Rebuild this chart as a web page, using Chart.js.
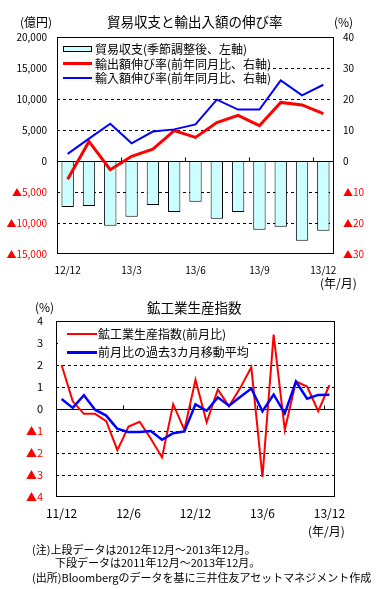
<!DOCTYPE html>
<html>
<head>
<meta charset="utf-8">
<script src="https://cdn.jsdelivr.net/npm/chart.js@4.4.1/dist/chart.umd.min.js"></script>
<style>
  html, body { margin:0; padding:0; background:#fff; }
  #wrap { position:relative; width:381px; height:589px; overflow:hidden; background:#fff;
          font-family:"Noto Sans CJK JP", sans-serif; color:#000; }
  canvas { position:absolute; left:0; }
  .t { position:absolute; white-space:nowrap; line-height:1; }
  .box { position:absolute; background:#fff; }
  .sw { position:absolute; }
</style>
</head>
<body>
<div id="wrap">
  <canvas id="c1" width="381" height="285" style="top:0"></canvas>
  <canvas id="c2" width="381" height="255" style="top:285px"></canvas>

  <div class="t" style="left:107px;top:15px;font-size:13.5px;">貿易収支と輸出入額の伸び率</div>
  <div class="t" style="left:20px;top:16px;font-size:12px;">(億円)</div>
  <div class="t" style="left:334px;top:16px;font-size:12px;">(%)</div>
  <div class="t" style="left:320px;top:277px;font-size:12px;">(年/月)</div>

  <div class="box" style="left:58px;top:38px;width:210px;height:50px;"></div>
  <div class="sw" style="left:63px;top:46px;width:27px;height:4px;background:#CCFFFF;border:1px solid #000;"></div>
  <div class="t" style="left:95px;top:43px;font-size:12px;" id="lg1"></div>
  <div class="sw" style="left:63px;top:62px;width:29px;height:3px;background:#FF0000;"></div>
  <div class="t" style="left:95px;top:57.5px;font-size:12px;" id="lg2"></div>
  <div class="sw" style="left:63px;top:77px;width:29px;height:2px;background:#0000FF;"></div>
  <div class="t" style="left:95px;top:72px;font-size:12px;" id="lg3"></div>

  <div class="t" style="left:147px;top:301px;font-size:13.5px;">鉱工業生産指数</div>
  <div class="t" style="left:35px;top:301px;font-size:12px;">(%)</div>
  <div class="t" style="left:308px;top:525px;font-size:12px;">(年/月)</div>

  <div class="box" style="left:58px;top:322px;width:187px;height:38px;"></div>
  <div class="sw" style="left:67px;top:333px;width:30px;height:2px;background:#FF0000;"></div>
  <div class="t" style="left:98px;top:328px;font-size:12px;" id="lg4"></div>
  <div class="sw" style="left:67px;top:350.5px;width:30px;height:3px;background:#0000FF;"></div>
  <div class="t" style="left:98px;top:346px;font-size:12px;" id="lg5"></div>

  <div class="t" style="left:32px;top:543.5px;font-size:11px;">(注)上段データは2012年12月～2013年12月。</div>
  <div class="t" style="left:55px;top:556.5px;font-size:11px;">下段データは2011年12月～2013年12月。</div>
  <div class="t" style="left:32px;top:571.5px;font-size:11px;">(出所)Bloombergのデータを基に三井住友アセットマネジメント作成</div>
</div>

<script>
// ---- Top chart data ----
const topMonths = ['12/12','13/1','13/2','13/3','13/4','13/5','13/6','13/7','13/8','13/9','13/10','13/11','13/12'];
const tradeBalance = [-7400, -7250, -10450, -9010, -7090, -8210, -6560, -9330, -8210, -11090, -10610, -12850, -11250];
const exportGrowth = [-5.9, 6.3, -2.8, 1.5, 3.8, 9.8, 7.6, 12.4, 14.7, 11.4, 18.9, 18.1, 15.3];
const importGrowth = [2.3, 7.2, 12.0, 5.7, 9.5, 10.2, 11.8, 19.8, 16.6, 16.6, 26.0, 21.2, 24.6];
const topLeftTicks = { min: -15000, max: 20000, step: 5000 };
const topRightTicks = { min: -30, max: 40, step: 10 };
const balanceLabel = '貿易収支(季節調整後、左軸)';
const exportLabel = '輸出額伸び率(前年同月比、右軸)';
const importLabel = '輸入額伸び率(前年同月比、右軸)';

// ---- Bottom chart data ----
const bottomMonths = ['11/12','12/1','12/2','12/3','12/4','12/5','12/6','12/7','12/8','12/9','12/10','12/11','12/12',
                      '13/1','13/2','13/3','13/4','13/5','13/6','13/7','13/8','13/9','13/10','13/11','13/12'];
const ipMoM = [2.0, 0.35, -0.22, -0.22, -0.55, -1.87, -0.8, -0.58, -1.35, -2.2, 0.22, -0.95, 1.33,
               -0.6, 0.89, 0.12, 0.95, 1.9, -3.1, 3.38, -0.95, 1.25, 1.02, -0.1, 1.09];
const ipMA3 = [0.45, 0.05, 0.63, -0.03, -0.3, -0.9, -1.05, -1.05, -1.0, -1.4, -1.1, -1.02, 0.21,
               -0.08, 0.53, 0.15, 0.55, 0.93, -0.1, 0.66, -0.2, 1.25, 0.47, 0.64, 0.65];
const bottomTicks = { min: -4, max: 4, step: 1 };
const ipLabel = '鉱工業生産指数(前月比)';
const maLabel = '前月比の過去3カ月移動平均';

document.getElementById('lg1').textContent = balanceLabel;
document.getElementById('lg2').textContent = exportLabel;
document.getElementById('lg3').textContent = importLabel;
document.getElementById('lg4').textContent = ipLabel;
document.getElementById('lg5').textContent = maLabel;

const tickFamily = '"Noto Sans CJK JP", sans-serif';
const negColor = c => (c.tick && c.tick.value < 0) ? '#FF0000' : '#000000';

const framePlugin = {
  id: 'frame',
  beforeDatasetsDraw(chart, args, opts) {
    const ctx = chart.ctx, a = chart.chartArea, ys = chart.scales[opts.yId];
    ctx.save();
    ctx.strokeStyle = '#000'; ctx.lineWidth = 1;
    ctx.setLineDash([3, 3]);
    ys.ticks.forEach(t => {
      if (t.value === ys.min || t.value === ys.max || t.value === 0) return;
      const y = Math.round(ys.getPixelForValue(t.value)) + 0.5;
      ctx.beginPath(); ctx.moveTo(a.left, y); ctx.lineTo(a.right, y); ctx.stroke();
    });
    ctx.setLineDash([]);
    const y0 = Math.round(ys.getPixelForValue(0)) + 0.5;
    ctx.beginPath(); ctx.moveTo(a.left, y0); ctx.lineTo(a.right, y0); ctx.stroke();
    const xs = chart.scales.x;
    const n = chart.data.labels.length;
    for (let k = opts.every; k < n; k += opts.every) {
      const x = Math.round((xs.getPixelForValue(k - 1) + xs.getPixelForValue(k)) / 2) + 0.5;
      ctx.beginPath(); ctx.moveTo(x, y0); ctx.lineTo(x, y0 - 4); ctx.stroke();
    }
    ctx.restore();
  },
  afterDatasetsDraw(chart) {
    const ctx = chart.ctx, a = chart.chartArea;
    ctx.save();
    ctx.strokeStyle = '#000'; ctx.lineWidth = 1;
    ctx.strokeRect(Math.round(a.left) + 0.5, Math.round(a.top) + 0.5,
                   Math.round(a.right - a.left) - 1, Math.round(a.bottom - a.top) - 1);
    ctx.restore();
  }
};

const noGrid = { display: false, drawTicks: false };

new Chart(document.getElementById('c1'), {
  type: 'bar',
  data: {
    labels: topMonths,
    datasets: [
      { type: 'line', label: importLabel, data: importGrowth, yAxisID: 'y1', borderColor: '#0000FF',
        borderWidth: 2, pointRadius: 0, tension: 0, order: 1 },
      { type: 'line', label: exportLabel, data: exportGrowth, yAxisID: 'y1', borderColor: '#FF0000',
        borderWidth: 3, pointRadius: 0, tension: 0, order: 2 },
      { type: 'bar', label: balanceLabel, data: tradeBalance, yAxisID: 'y', backgroundColor: '#CCFFFF',
        borderColor: '#000000', borderWidth: 1, borderSkipped: false, barPercentage: 0.58,
        categoryPercentage: 1, order: 3 }
    ]
  },
  options: {
    responsive: false, animation: false, devicePixelRatio: 1,
    layout: { padding: { top: 37, left: 0, right: 0, bottom: 0 } },
    plugins: { legend: { display: false }, tooltip: { enabled: false }, frame: { yId: 'y', every: 3 } },
    scales: {
      x: {
        offset: true, grid: noGrid, border: { display: false },
        ticks: { autoSkip: false, maxRotation: 0, padding: 10, color: '#000',
                 font: { size: 10, family: tickFamily },
                 callback: (v, i) => (i % 3 === 0 ? topMonths[i] : '') },
        afterFit: s => { s.height = 31; }
      },
      y: {
        position: 'left', min: topLeftTicks.min, max: topLeftTicks.max,
        grid: noGrid, border: { display: false },
        ticks: { stepSize: topLeftTicks.step, padding: 10, color: negColor,
                 font: { size: 10, family: tickFamily },
                 callback: v => (v < 0 ? '▲' + Math.abs(v).toLocaleString('en-US') : v.toLocaleString('en-US')) },
        afterFit: s => { s.width = 57; }
      },
      y1: {
        position: 'right', min: topRightTicks.min, max: topRightTicks.max,
        grid: noGrid, border: { display: false },
        ticks: { stepSize: topRightTicks.step, padding: 9, color: negColor,
                 font: { size: 10, family: tickFamily },
                 callback: v => (v < 0 ? '▲' + Math.abs(v) : String(v)) },
        afterFit: s => { s.width = 47; }
      }
    }
  },
  plugins: [framePlugin]
});

new Chart(document.getElementById('c2'), {
  type: 'line',
  data: {
    labels: bottomMonths,
    datasets: [
      { label: maLabel, data: ipMA3, borderColor: '#0000FF', borderWidth: 2.5, pointRadius: 0, tension: 0, order: 1 },
      { label: ipLabel, data: ipMoM, borderColor: '#FF0000', borderWidth: 2, pointRadius: 0, tension: 0, order: 2 }
    ]
  },
  options: {
    responsive: false, animation: false, devicePixelRatio: 1,
    layout: { padding: { top: 36, left: 0, right: 46, bottom: 0 } },
    plugins: { legend: { display: false }, tooltip: { enabled: false }, frame: { yId: 'y', every: 6 } },
    scales: {
      x: {
        offset: true, grid: noGrid, border: { display: false },
        ticks: { autoSkip: false, maxRotation: 0, padding: 9, color: '#000',
                 font: { size: 12, family: tickFamily },
                 callback: (v, i) => (i % 6 === 0 ? bottomMonths[i] : '') },
        afterFit: s => { s.height = 43; }
      },
      y: {
        position: 'left', min: bottomTicks.min, max: bottomTicks.max,
        grid: noGrid, border: { display: false },
        ticks: { stepSize: bottomTicks.step, padding: 13, color: negColor,
                 font: { size: 11, family: tickFamily },
                 callback: v => (v < 0 ? '▲' + Math.abs(v) : String(v)) },
        afterFit: s => { s.width = 56; }
      }
    }
  },
  plugins: [framePlugin]
});
</script>
</body>
</html>
